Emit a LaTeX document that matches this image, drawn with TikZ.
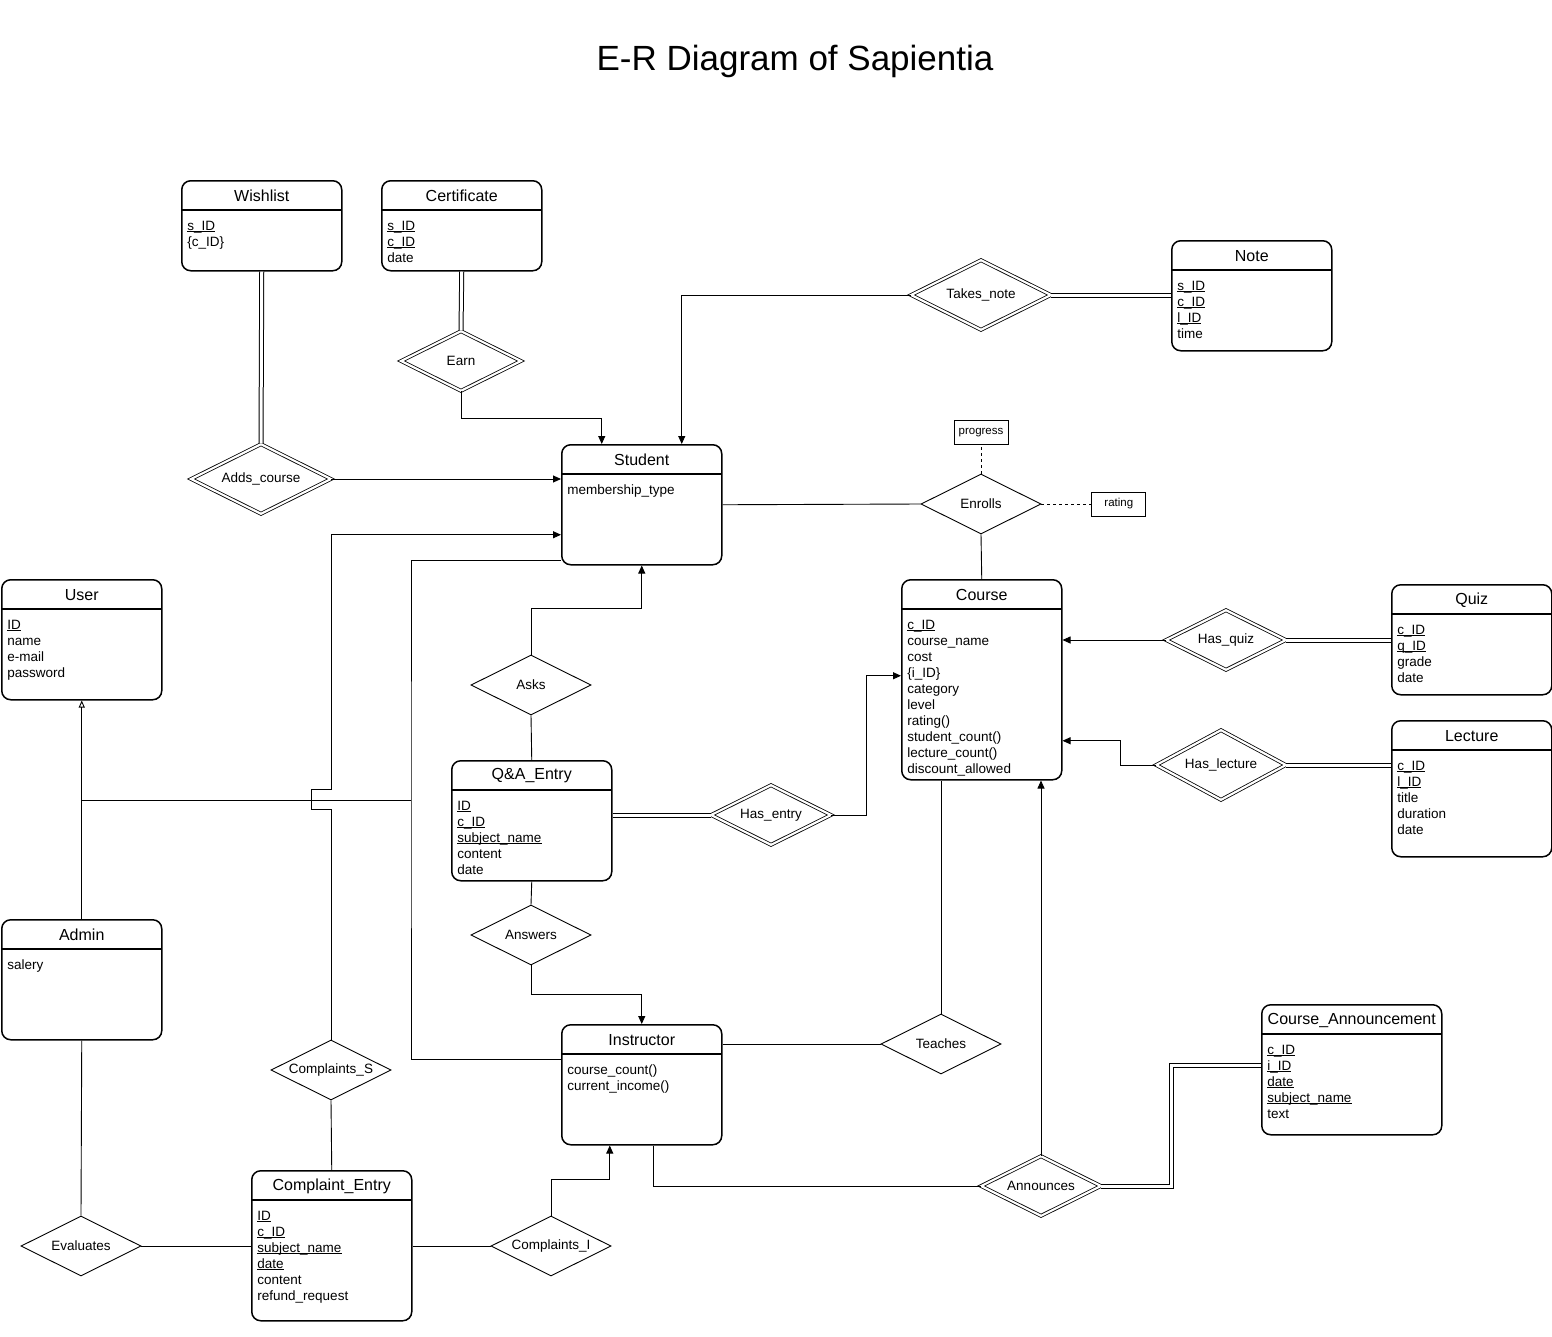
\documentclass[tikz,border=0pt]{standalone}
\usepackage{fontspec}
\setmainfont{Liberation Sans}
\usetikzlibrary{shapes.geometric,arrows.meta,positioning}
\newcommand{\keyattr}[1]{\underline{\smash{#1}}\vphantom{Ib}}
\tikzset{
  entity/.style = {draw, line width=1.5pt, rounded corners=9pt, anchor=north west,
    minimum width=160pt, inner sep=0pt,
    path picture={\draw[line width=1.5pt]
      ([yshift=-29pt]path picture bounding box.north west) --
      ([yshift=-29pt]path picture bounding box.north east);}},% entity box, header line
  etitle/.style = {anchor=center, yshift=-16pt, font=\fontsize{16}{19}\selectfont},
  attrs/.style = {anchor=north west, align=left, inner sep=0pt,
    font=\fontsize{13.5}{16}\selectfont},
  rel/.style = {diamond, draw, line width=0.9pt, aspect=2, inner sep=0pt,
    minimum width=120pt, minimum height=60pt, font=\fontsize{13.5}{16}\selectfont},
  wrel/.style = {rel, double, double distance=2.2pt, line width=0.8pt},% weak relationship
  tot/.style = {double, double distance=3pt, line width=1pt},% total participation
  attrbox/.style = {draw, line width=0.8pt, minimum width=54pt, minimum height=24pt,
    inner sep=0pt, font=\fontsize{11.5}{13}\selectfont}
}
\begin{document}
\begin{tikzpicture}[x=1pt, y=-1pt, line width=0.9pt, >={Triangle[length=8pt,width=7pt]}]
\useasboundingbox (0,0) rectangle (1552,1336);
\node[font=\fontsize{35}{42}\selectfont] (title) at (795,61) {E-R Diagram of Sapientia};

% entities
\node[entity, minimum height=90pt, label={[etitle]north:Wishlist}] (wishlist) at (181,180) {};
\node[attrs, below right=40pt and 6pt of wishlist.north west] {\keyattr{s\_ID}\\\{c\_ID\}};
\node[entity, minimum height=90pt, label={[etitle]north:Certificate}] (certificate) at (381,180) {};
\node[attrs, below right=40pt and 6pt of certificate.north west] {\keyattr{s\_ID}\\\keyattr{c\_ID}\\date};
\node[entity, minimum height=110pt, label={[etitle]north:Note}] (note) at (1171,240) {};
\node[attrs, below right=40pt and 6pt of note.north west] {\keyattr{s\_ID}\\\keyattr{c\_ID}\\\keyattr{l\_ID}\\time};
\node[entity, minimum height=120pt, label={[etitle]north:Student}] (student) at (561,444) {};
\node[attrs, below right=40pt and 6pt of student.north west] {membership\_type};
\node[entity, minimum height=120pt, label={[etitle]north:User}] (user) at (1,579) {};
\node[attrs, below right=40pt and 6pt of user.north west] {\keyattr{ID}\\name\\e-mail\\password};
\node[entity, minimum height=200pt, label={[etitle]north:Course}] (course) at (901,579) {};
\node[attrs, below right=40pt and 6pt of course.north west] {\keyattr{c\_ID}\\course\_name\\cost\\\{i\_ID\}\\category\\level\\rating()\\student\_count()\\lecture\_count()\\discount\_allowed};
\node[entity, minimum height=110pt, label={[etitle]north:Quiz}] (quiz) at (1391,584) {};
\node[attrs, below right=40pt and 6pt of quiz.north west] {\keyattr{c\_ID}\\\keyattr{q\_ID}\\grade\\date};
\node[entity, minimum height=136pt, label={[etitle]north:Lecture}] (lecture) at (1391,720) {};
\node[attrs, below right=40pt and 6pt of lecture.north west] {\keyattr{c\_ID}\\\keyattr{l\_ID}\\title\\duration\\date};
\node[entity, minimum height=120pt, label={[etitle]north:Q\&A\_Entry}] (qa) at (451,760) {};
\node[attrs, below right=40pt and 6pt of qa.north west] {\keyattr{ID}\\\keyattr{c\_ID}\\\keyattr{subject\_name}\\content\\date};
\node[entity, minimum height=120pt, label={[etitle]north:Admin}] (admin) at (1,919) {};
\node[attrs, below right=40pt and 6pt of admin.north west] {salery};
\node[entity, minimum height=120pt, label={[etitle]north:Instructor}] (instructor) at (561,1024) {};
\node[attrs, below right=40pt and 6pt of instructor.north west] {course\_count()\\current\_income()};
\node[entity, minimum width=180pt, minimum height=130pt, label={[etitle]north:Course\_Announcement}] (announcement) at (1261,1004) {};
\node[attrs, below right=40pt and 6pt of announcement.north west] {\keyattr{c\_ID}\\\keyattr{i\_ID}\\\keyattr{date}\\\keyattr{subject\_name}\\text};
\node[entity, minimum height=150pt, label={[etitle]north:Complaint\_Entry}] (complaint) at (251,1170) {};
\node[attrs, below right=40pt and 6pt of complaint.north west] {\keyattr{ID}\\\keyattr{c\_ID}\\\keyattr{subject\_name}\\\keyattr{date}\\content\\refund\_request};

% relationships
\node[wrel, minimum width=140pt, minimum height=70pt] (addscourse) at (261,479) {Adds\_course};
\node[wrel] (earn) at (461,361) {Earn};
\node[wrel, minimum width=140pt, minimum height=70pt] (takesnote) at (981,295) {Takes\_note};
\node[rel] (enrolls) at (981,504) {Enrolls};
\node[attrbox, above=29pt of enrolls.north] (progress) {progress};
\node[attrbox, right=50pt of enrolls.east] (rating) {rating};
\node[wrel] (hasquiz) at (1226,640) {Has\_quiz};
\node[wrel, minimum width=130pt, minimum height=70pt] (haslecture) at (1221,765) {Has\_lecture};
\node[rel] (asks) at (531,685) {Asks};
\node[wrel] (hasentry) at (771,815) {Has\_entry};
\node[rel] (answers) at (531,935) {Answers};
\node[rel] (teaches) at (941,1044) {Teaches};
\node[wrel] (announces) at (1041,1186) {Announces};
\node[rel] (complaintss) at (331,1070) {Complaints\_S};
\node[rel] (evaluates) at (81,1246) {Evaluates};
\node[rel] (complaintsi) at (551,1246) {Complaints\_I};

% connectors
\draw[tot] (wishlist.south) -- (addscourse.north);
\draw[tot] (certificate.south) -- (earn.north);
\draw[->] (earn.south) -- ++(0,27) -| ([xshift=-40pt]student.north);
\draw[->] (addscourse.east) -- (addscourse.east -| student.west);
\draw[->] (takesnote.west) -| ([xshift=40pt]student.north);
\draw[tot] (takesnote.east) -- (takesnote.east -| note.west);
\draw (student.east) -- (enrolls.west);
\draw (enrolls.south) -- (course.north);
\draw[dashed] (enrolls.north) -- (progress.south);
\draw[dashed] (enrolls.east) -- (rating.west);
\draw[->] (hasquiz.west) -- (course.east |- hasquiz.west);
\draw[tot] (hasquiz.east) -- (quiz.west |- hasquiz.east);
\draw[->] (haslecture.west) -- ++(-35,0) |- ([yshift=-61pt]course.east);
\draw[tot] (haslecture.east) -- (lecture.west |- haslecture.east);
\draw[->] (asks.north) -- ++(0,-46) -| (student.south);
\draw (asks.south) -- (qa.north);
\draw[tot] (qa.east |- hasentry.west) -- (hasentry.west);
\draw[->] (hasentry.east) -- ++(35,0) |- ([yshift=4pt]course.west);
\draw (qa.south) -- (answers.north);
\draw[->] (answers.south) -- ++(0,29) -| (instructor.north);
\draw (teaches.west -| instructor.east) -- (teaches.west);
\draw (teaches.north) -- (teaches.north |- course.south);
\draw ([xshift=12pt]instructor.south) |- (announces.west);
\draw[->] (announces.north) -- (announces.north |- course.south);
\draw[tot] (announces.east) -- ++(70,0) |- ([yshift=4pt]announcement.west);
\draw (complaint.east |- complaintsi.west) -- (complaintsi.west);
\draw[->] (complaintsi.north) -- ++(0,-36) -| ([xshift=-32pt]instructor.south);
\draw (evaluates.east) -- (complaint.west |- evaluates.east);
\draw (admin.south) -- (evaluates.north);
\draw (complaintss.south) -- (complaint.north);
\draw[->] (complaintss.north) -- ++(0,-230) -- ++(-20,0) -- ++(0,-20) -- ++(20,0)
  |- ([yshift=-30pt]student.west);

% generalisation of user
\coordinate (isa) at (411,800);
\draw ([yshift=-56pt]student.west) -| (isa) |- ([yshift=25pt]instructor.west);
\draw (isa) -- (isa -| user.south);
\draw[-{Triangle[open,length=7pt,width=6pt]}] (admin.north) -- (user.south);
\end{tikzpicture}
\end{document}
